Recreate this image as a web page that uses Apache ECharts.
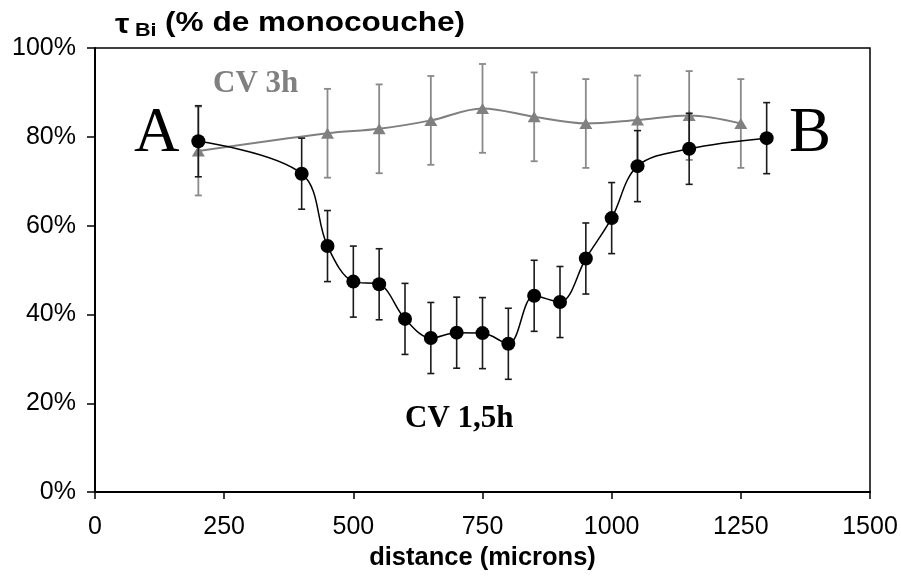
<!DOCTYPE html>
<html>
<head>
<meta charset="utf-8">
<script src="https://cdn.jsdelivr.net/npm/echarts@6/dist/echarts.min.js"></script>
<style>
  html, body { margin: 0; padding: 0; background: #fff; }
  #chart { width: 901px; height: 576px; }
</style>
</head>
<body>
<div id="chart"></div>
<script>
// Bi coverage profile along the A -> B line (percent of a monolayer)
const distCV15 = [200, 400, 450, 500, 550, 600, 650, 700, 750, 800, 850, 900, 950, 1000, 1050, 1150, 1300];
const tauCV15  = [79.0, 71.7, 55.4, 47.4, 46.8, 39.0, 34.7, 35.9, 35.8, 33.4, 44.2, 42.8, 52.6, 61.7, 73.4, 77.3, 79.7];
const errCV15  = [8, 8, 8, 8, 8, 8, 8, 8, 8, 8, 8, 8, 8, 8, 8, 8, 8];

const distCV3 = [200, 450, 550, 650, 750, 850, 950, 1050, 1150, 1250];
const tauCV3  = [76.8, 80.8, 81.8, 83.7, 86.4, 84.5, 83.0, 83.8, 84.8, 83.0];
const errCV3  = [10, 10, 10, 10, 10, 10, 10, 10, 10, 10];

const xTicks = { min: 0, max: 1500, step: 250 };
const yTicks = { min: 0, max: 100, step: 20 };

const SANS = "'Liberation Sans', Arial, sans-serif";
const SERIF = "'Liberation Serif', 'Times New Roman', serif";

function pairs(xs, ys) { return xs.map((x, i) => [x, ys[i]]); }
function bars(xs, ys, es) { return xs.map((x, i) => [x, ys[i] - es[i], ys[i] + es[i]]); }

function errorBarRenderer(color, width) {
  return function (params, api) {
    const x = api.value(0);
    const lo = api.coord([x, api.value(1)]);
    const hi = api.coord([x, api.value(2)]);
    const cap = 3.5;
    const style = { stroke: color, lineWidth: width };
    return {
      type: 'group',
      children: [
        { type: 'line', shape: { x1: hi[0], y1: hi[1], x2: lo[0], y2: lo[1] }, style: style },
        { type: 'line', shape: { x1: hi[0] - cap, y1: hi[1], x2: hi[0] + cap, y2: hi[1] }, style: style },
        { type: 'line', shape: { x1: lo[0] - cap, y1: lo[1], x2: lo[0] + cap, y2: lo[1] }, style: style }
      ]
    };
  };
}

function label(text, x, y, font, fill, scaleX) {
  return {
    type: 'text', x: x, y: y, scaleX: scaleX || 1, silent: true,
    style: {
      text: text, x: 0, y: 0, font: font, fill: fill,
      align: 'left', textAlign: 'left',
      verticalAlign: 'middle', textVerticalAlign: 'middle'
    }
  };
}

const chart = echarts.init(document.getElementById('chart'), null, { renderer: 'canvas' });

chart.setOption({
  animation: false,
  backgroundColor: '#fff',
  grid: {
    left: 95, right: 31, top: 48, bottom: 82,
    show: true, borderColor: '#000', borderWidth: 1.5, backgroundColor: 'transparent'
  },
  xAxis: {
    type: 'value',
    min: xTicks.min, max: xTicks.max, interval: xTicks.step,
    axisLine: { onZero: false, lineStyle: { color: '#000', width: 2 } },
    axisTick: { show: true, inside: false, length: 7, lineStyle: { color: '#000', width: 1.5 } },
    axisLabel: { color: '#000', fontFamily: SANS, fontSize: 25, margin: 23, formatter: v => String(v) },
    splitLine: { show: false },
    name: 'distance (microns)',
    nameLocation: 'middle',
    nameGap: 50,
    nameTextStyle: { color: '#000', fontFamily: SANS, fontSize: 25.5, fontWeight: 'bold' }
  },
  yAxis: {
    type: 'value',
    min: yTicks.min, max: yTicks.max, interval: yTicks.step,
    axisLine: { show: true, onZero: false, lineStyle: { color: '#000', width: 2 } },
    axisTick: { show: true, inside: false, length: 8, lineStyle: { color: '#000', width: 1.5 } },
    axisLabel: { color: '#000', fontFamily: SANS, fontSize: 25, margin: 19, formatter: '{value}%' },
    splitLine: { show: false }
  },
  graphic: [
    label('\u03C4', 115, 25, 'bold 28px ' + SANS, '#000', 1.15),
    label('Bi', 135, 31, 'bold 18px ' + SANS, '#000', 1.2),
    label('(% de monocouche)', 165, 24, 'bold 27px ' + SANS, '#000', 1.17),
    label('A', 134, 134, '63px ' + SERIF, '#000'),
    label('B', 789, 134, '63px ' + SERIF, '#000'),
    label('CV 3h', 213, 84, 'bold 31px ' + SERIF, '#808080'),
    label('CV 1,5h', 405, 419, 'bold 31px ' + SERIF, '#000')
  ],
  series: [
    {
      name: 'CV 3h err',
      type: 'custom',
      data: bars(distCV3, tauCV3, errCV3),
      renderItem: errorBarRenderer('#8a8a8a', 1.8),
      z: 2, silent: true
    },
    {
      name: 'CV 3h',
      type: 'line',
      data: pairs(distCV3, tauCV3),
      smooth: 0.35,
      symbol: 'triangle', symbolSize: [13, 11],
      itemStyle: { color: '#808080' },
      lineStyle: { color: '#808080', width: 2 },
      z: 3, silent: true
    },
    {
      name: 'CV 1,5h err',
      type: 'custom',
      data: bars(distCV15, tauCV15, errCV15),
      renderItem: errorBarRenderer('#1a1a1a', 1.6),
      z: 4, silent: true
    },
    {
      name: 'CV 1,5h',
      type: 'line',
      data: pairs(distCV15, tauCV15),
      smooth: 0.35,
      symbol: 'circle', symbolSize: 14,
      itemStyle: { color: '#000' },
      lineStyle: { color: '#000', width: 1.5 },
      z: 5, silent: true
    }
  ]
});
</script>
</body>
</html>
